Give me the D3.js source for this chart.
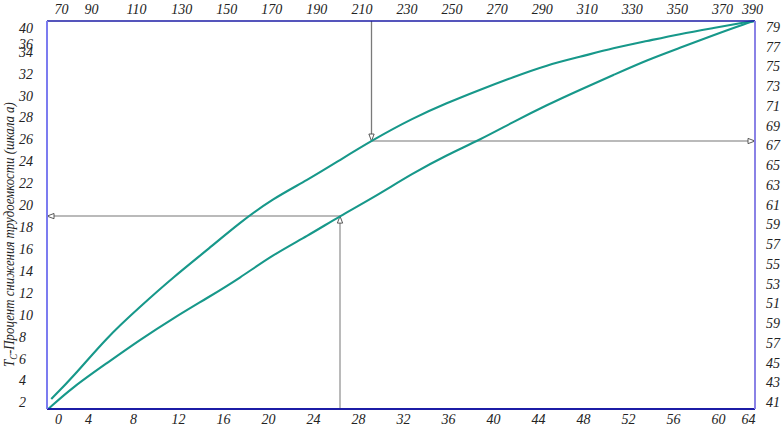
<!DOCTYPE html>
<html>
<head>
<meta charset="utf-8">
<script src="https://cdn.jsdelivr.net/npm/d3@7"></script>
<style>
  body { margin: 0; background: #fff; }
  svg { display: block; }
  .tick text, .axis-label {
    font-family: "Liberation Serif", "Times New Roman", serif;
    font-style: italic;
    font-size: 14px;
    fill: #222;
  }
</style>
</head>
<body>
<div id="chart"></div>
<script>
const width = 782, height = 429;
const margin = {top: 21, right: 27, bottom: 20, left: 47};
const innerWidth = width - margin.left - margin.right;
const innerHeight = height - margin.top - margin.bottom;

// Tick labels as printed on the nomogram
const bottomTicks = [0, 4, 8, 12, 16, 20, 24, 28, 32, 36, 40, 44, 48, 52, 56, 60, 64];
const topTicks = [70, 90, 110, 130, 150, 170, 190, 210, 230, 250, 270, 290, 310, 330, 350, 370, 390];
const leftTicks = [40, 36, 34, 32, 30, 28, 26, 24, 22, 20, 18, 16, 14, 12, 10, 8, 6, 4, 2];
const rightLabels = ["79", "77", "75", "73", "71", "69", "67", "65", "63", "61",
                     "59", "57", "55", "53", "51", "59", "57", "45", "43", "41"];

// Curves (x in bottom-scale units, y in left-scale units)
const upperX = [-0.9, 2.0, 5.7, 8.6, 11.6, 14.6, 17.5, 20.4, 23.5, 26.4, 29.3, 32.9, 35.9,
                38.8, 41.8, 44.8, 47.7, 50.7, 53.7, 56.6, 59.6, 63.9, 64.9];
const upperY = [2.31, 4.32, 7.97, 10.71, 13.44, 15.91, 18.41, 20.58, 22.28, 24.12, 25.94, 27.95, 29.32,
                30.51, 31.69, 32.79, 33.52, 34.94, 36.72, 38.5, 40.02, 41.55, 41.8];
const lowerX = [-1.3, 2.0, 5.7, 8.6, 11.6, 14.6, 17.5, 20.4, 23.5, 26.4, 29.3, 32.9, 35.9,
                38.8, 41.8, 44.8, 47.7, 50.7, 53.7, 56.6, 59.6, 63.9, 64.9];
const lowerY = [1.4, 3.41, 5.6, 7.7, 9.7, 11.53, 13.35, 15.45, 17.18, 19.01, 20.65, 22.93, 24.58,
                25.94, 27.59, 29.14, 30.51, 31.87, 33.24, 34.94, 38.24, 41.29, 41.8];

// Reading guides: [0] top -> upper curve -> right, [1] bottom -> lower curve -> left
const guideX = [29.2, 26.4];
const guideY = [25.85, 19.0];

const svg = d3.select("#chart")
  .append("svg")
  .attr("width", width)
  .attr("height", height);

const defs = svg.append("defs");
defs.append("marker")
  .attr("id", "arrow")
  .attr("viewBox", "0 -4 10 8")
  .attr("refX", 9)
  .attr("refY", 0)
  .attr("markerUnits", "userSpaceOnUse")
  .attr("markerWidth", 9)
  .attr("markerHeight", 7)
  .attr("orient", "auto")
  .append("path")
    .attr("d", "M1,-3L9,0L1,3Z")
    .attr("fill", "#fff")
    .attr("stroke", "#444")
    .attr("stroke-width", 1);

const inner = svg.append("g")
  .attr("transform", `translate(${margin.left}, ${margin.top})`);

// Scales (the printed scales are not evenly spaced near their ends)
const xScale = d3.scaleLinear()
  .domain([0, 4, 60, 64])
  .range([11, 41, 671, 701]);

const xTopScale = d3.scaleLinear()
  .domain([70, 90, 370, 390])
  .range([14, 44, 675, 705]);

const yScale = d3.scaleLinear()
  .domain([1.4, 34, 41.8])
  .range([innerHeight, 30.7, 0]);

const yRightScale = d3.scalePoint()
  .domain(d3.range(rightLabels.length))
  .range([6, 381]);

// Guides
const guideColor = "#a3a3a3";
inner.append("line")
  .attr("x1", xScale(guideX[0])).attr("y1", 0)
  .attr("x2", xScale(guideX[0])).attr("y2", yScale(guideY[0]))
  .attr("stroke", "#7a7a7a").attr("stroke-width", 1.3)
  .attr("marker-end", "url(#arrow)");
inner.append("line")
  .attr("x1", xScale(guideX[0])).attr("y1", yScale(guideY[0]))
  .attr("x2", innerWidth).attr("y2", yScale(guideY[0]))
  .attr("stroke", guideColor).attr("stroke-width", 1.5)
  .attr("marker-end", "url(#arrow)");
inner.append("line")
  .attr("x1", xScale(guideX[1])).attr("y1", innerHeight)
  .attr("x2", xScale(guideX[1])).attr("y2", yScale(guideY[1]))
  .attr("stroke", guideColor).attr("stroke-width", 1.5)
  .attr("marker-end", "url(#arrow)");
inner.append("line")
  .attr("x1", xScale(guideX[1])).attr("y1", yScale(guideY[1]))
  .attr("x2", 0).attr("y2", yScale(guideY[1]))
  .attr("stroke", guideColor).attr("stroke-width", 1.5)
  .attr("marker-end", "url(#arrow)");

// Curves
const line = d3.line()
  .x(d => xScale(d[0]))
  .y(d => yScale(d[1]))
  .curve(d3.curveBasis);

[[upperX, upperY], [lowerX, lowerY]].forEach(([xs, ys]) => {
  inner.append("path")
    .datum(xs.map((x, i) => [x, ys[i]]))
    .attr("d", line)
    .attr("fill", "none")
    .attr("stroke", "#17988a")
    .attr("stroke-width", 2.1)
    .attr("stroke-linejoin", "round");
});

// Frame
inner.append("line").attr("x1", 0).attr("x2", innerWidth).attr("y1", 0).attr("y2", 0)
  .attr("stroke", "#1c1ca6").attr("stroke-width", 1.5);
inner.append("line").attr("x1", 0).attr("x2", innerWidth).attr("y1", innerHeight).attr("y2", innerHeight)
  .attr("stroke", "#1c1ca6").attr("stroke-width", 1.8);
inner.append("line").attr("x1", 0).attr("x2", 0).attr("y1", 0).attr("y2", innerHeight)
  .attr("stroke", "#7c7cf0").attr("stroke-width", 2);
inner.append("line").attr("x1", innerWidth).attr("x2", innerWidth).attr("y1", 0).attr("y2", innerHeight)
  .attr("stroke", "#8a82e6").attr("stroke-width", 2);

// Axes (labels only)
const bottomAxis = inner.append("g")
  .attr("transform", `translate(0, ${innerHeight})`)
  .call(d3.axisBottom(xScale).tickValues(bottomTicks).tickSize(0).tickPadding(5));

const topAxis = inner.append("g")
  .call(d3.axisTop(xTopScale).tickValues(topTicks).tickSize(0).tickPadding(7));

const leftAxis = inner.append("g")
  .call(d3.axisLeft(yScale).tickValues(leftTicks).tickSize(0));
leftAxis.selectAll("text")
  .attr("text-anchor", "start")
  .attr("x", -28);

const rightAxis = inner.append("g")
  .attr("transform", `translate(${innerWidth}, 0)`)
  .call(d3.axisRight(yRightScale).tickFormat(i => rightLabels[i]).tickSize(0).tickPadding(11));

[bottomAxis, topAxis, leftAxis, rightAxis].forEach(a => a.select(".domain").remove());

// Y axis title (condensed, like the scanned original)
const title = svg.append("text")
  .attr("class", "axis-label")
  .attr("transform", "translate(14, 367) rotate(-90) scale(0.885, 1)")
  .style("font-size", "14.5px");
title.append("tspan").text("T");
title.append("tspan").text("C").attr("dy", 3).style("font-size", "10px");
title.append("tspan").text("-Процент снижения трудоемкости (шкала а)").attr("dy", -3);
</script>
</body>
</html>
